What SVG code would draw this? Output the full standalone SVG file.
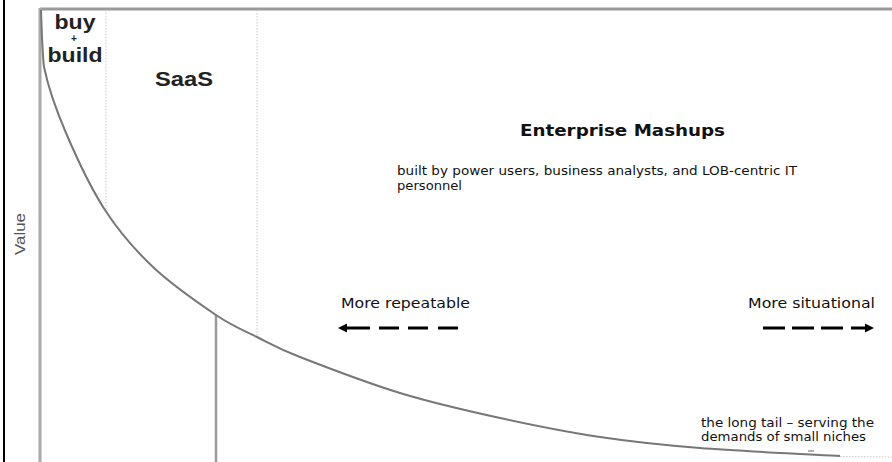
<svg xmlns="http://www.w3.org/2000/svg" width="892" height="462" viewBox="0 0 892 462">
<style>
.hv{font-family:"Liberation Sans",Arial,sans-serif;font-weight:bold;fill:#222}
.vd{font-family:"DejaVu Sans",Verdana,sans-serif;fill:#111}
.dot{stroke:#c8c8c8;stroke-width:1;stroke-dasharray:1.5 1.5;fill:none}
.arr{stroke:#000;stroke-width:3;fill:none}
</style>
<rect width="892" height="462" fill="#fff"/>
<g id="frame">
<line x1="4" y1="0" x2="4" y2="462" stroke="#000" stroke-width="2"/>
<line x1="40" y1="9" x2="892" y2="9" stroke="#9a9a9a" stroke-width="3"/>
<line x1="40" y1="8" x2="40" y2="462" stroke="#a8a8a8" stroke-width="3"/>
<line x1="106" y1="10" x2="106" y2="210" class="dot"/>
<line x1="257" y1="10" x2="257" y2="337" class="dot"/>
<line x1="216" y1="315" x2="216" y2="462" stroke="#9a9a9a" stroke-width="2.5"/>
</g>
<g id="curve">
<path d="M41,10 C41.5,21 42,50 44,67 C48.2,87.2 55.8,109.2 66,133 C76.2,156.8 90.5,187.7 105,210 C119.5,232.3 134.5,249.5 153,267 C171.5,284.5 198.7,303.3 216,315 C233.3,326.7 243,330 257,337 C271,344 276.2,347.7 300,357 C323.8,366.3 366.7,382.8 400,393 C433.3,403.2 466.7,410.7 500,418 C533.3,425.3 566.7,432 600,437 C633.3,442 660,444.8 700,448 C740,451.2 816.7,454.7 840,456" fill="none" stroke="#777" stroke-width="2"/>
<line x1="840" y1="456.5" x2="892" y2="457" class="dot" stroke-width="2"/>
<line x1="808" y1="451" x2="814" y2="451" stroke="#999" stroke-width="1.5"/>
</g>
<g id="label-buy-build">
<text class="hv" x="75" y="29" font-size="20" text-anchor="middle" textLength="41" lengthAdjust="spacingAndGlyphs">buy</text>
<text class="hv" x="74" y="41.5" font-size="10" text-anchor="middle">+</text>
<text class="hv" x="75" y="62" font-size="21" text-anchor="middle" textLength="55" lengthAdjust="spacingAndGlyphs">build</text>
</g>
<g id="label-saas">
<text class="hv" x="184" y="86" font-size="20" text-anchor="middle" textLength="58" lengthAdjust="spacingAndGlyphs">SaaS</text>
</g>
<g id="label-value">
<text x="0" y="0" transform="translate(25,234) rotate(-90)" font-family="Liberation Sans, Arial, sans-serif" font-size="15" fill="#555" text-anchor="middle" textLength="42" lengthAdjust="spacingAndGlyphs">Value</text>
</g>
<g id="enterprise-mashups">
<text class="vd" x="520" y="136" font-size="16" font-weight="bold" textLength="205" lengthAdjust="spacingAndGlyphs">Enterprise Mashups</text>
<text class="vd" x="397" y="175" font-size="12.5" textLength="400" lengthAdjust="spacingAndGlyphs">built by power users, business analysts, and LOB-centric IT</text>
<text class="vd" x="397" y="190" font-size="12.5" textLength="65" lengthAdjust="spacingAndGlyphs">personnel</text>
</g>
<g id="more-repeatable">
<text class="vd" x="341" y="308" font-size="14.5" textLength="129" lengthAdjust="spacingAndGlyphs">More repeatable</text>
</g>
<g id="more-situational">
<text class="vd" x="748" y="308" font-size="14.5" textLength="127" lengthAdjust="spacingAndGlyphs">More situational</text>
</g>
<g id="long-tail">
<text class="vd" x="701" y="427" font-size="12" textLength="173" lengthAdjust="spacingAndGlyphs">the long tail – serving the</text>
<text class="vd" x="701" y="441" font-size="12" textLength="165" lengthAdjust="spacingAndGlyphs">demands of small niches</text>
</g>
<g id="connectors">
<path class="arr" d="M345,328 H370 M379,328 H399 M408,328 H428 M438,328 H458"/>
<polygon points="338,328 347,323.5 347,332.5" fill="#000"/>
<path class="arr" d="M763,328 H785 M792,328 H814 M821,328 H843 M851,328 H867"/>
<polygon points="874,328 865,323.5 865,332.5" fill="#000"/>
</g>
</svg>
